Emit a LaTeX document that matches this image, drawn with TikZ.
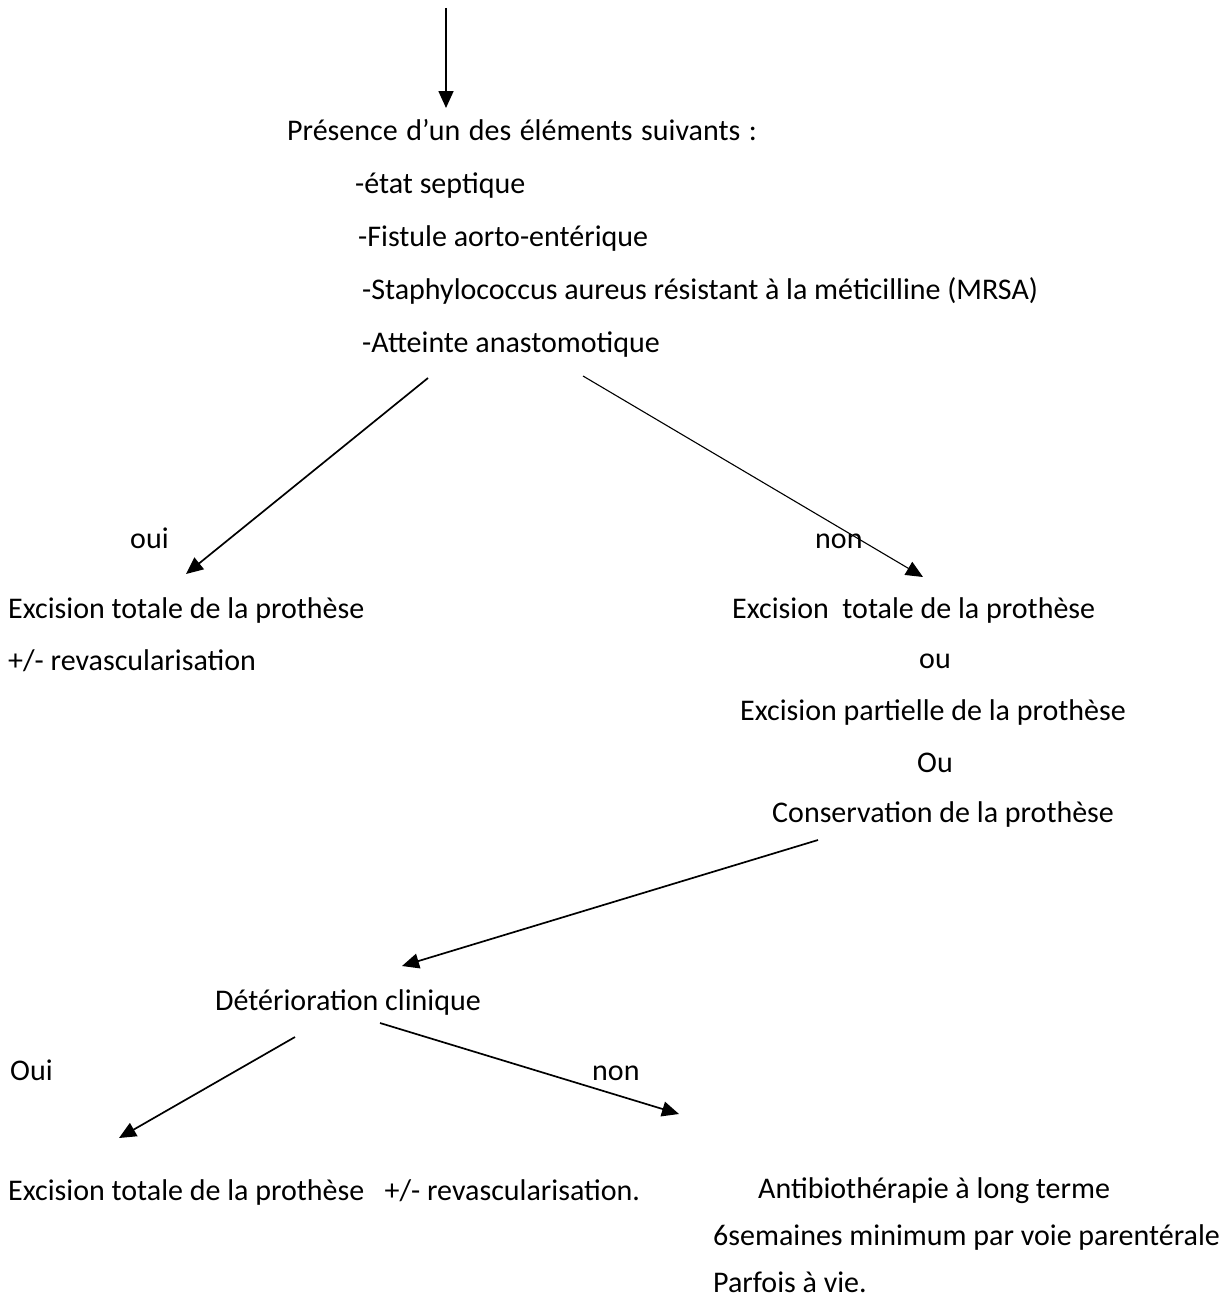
\documentclass[tikz,border=0pt]{standalone}
\usepackage{fontspec}
\setmainfont{Carlito}
\usetikzlibrary{arrows.meta}
\tikzset{
  txt/.style={inner sep=0pt, anchor=base west, font=\fontsize{30}{34}\selectfont},
  ctxt/.style={inner sep=0pt, anchor=base, font=\fontsize{30}{34}\selectfont},
  conn/.style={line width=1.7pt, -{Triangle[length=17pt,width=15pt]}},
  thinconn/.style={line width=1.1pt, -{Triangle[length=17pt,width=15pt]}}
}
\begin{document}
\begin{tikzpicture}[x=1pt,y=-1pt]
\useasboundingbox (0,0) rectangle (1231,1298);
% texts
\node[txt] (pres) at (287,140) {\spaceskip=8.5pt Présence d’un des éléments suivants :};
\node[txt] (l1) at (355,193) {-état septique};
\node[txt] (l2) at (358,246) {-Fistule aorto-entérique};
\node[txt] (l3) at (362,299) {-Staphylococcus aureus résistant à la méticilline (MRSA)};
\node[txt] (l4) at (362,352) {-Atteinte anastomotique};
\node[txt] (oui) at (130,548) {oui};
\node[txt] (non) at (815,548) {non};
\node[txt] (ex1) at (8,618) {Excision totale de la prothèse};
\node[txt] (rev1) at (8,670) {+/- revascularisation};
\node[txt] (ex2) at (732,618) {Excision\ \ totale de la prothèse};
\node[ctxt] (ou1) at (935,668) {ou};
\node[txt] (ex3) at (740,720) {Excision partielle de la prothèse};
\node[ctxt] (ou2) at (935,772) {Ou};
\node[txt] (cons) at (772,822) {Conservation de la prothèse};
\node[txt] (det) at (215,1010) {Détérioration clinique};
\node[txt] (Oui) at (10,1080) {Oui};
\node[txt] (non2) at (592,1080) {non};
\node[txt] (ex4) at (8,1200) {Excision totale de la prothèse\ \ \ +/- revascularisation.};
\node[txt] (ab1) at (758,1198) {Antibiothérapie à long terme};
\node[txt] (ab2) at (713,1245) {6semaines minimum par voie parentérale};
\node[txt] (ab3) at (713,1292) {Parfois à vie.};
% connector ends
\coordinate (top) at (446,8);
\coordinate (topend) at (446,108);
\coordinate (a1s) at (428,378);
\coordinate (a1e) at (186,574);
\coordinate (a2s) at (583,376);
\coordinate (a2e) at (923,577);
\coordinate (a3s) at (818,840);
\coordinate (a3e) at (402,966);
\coordinate (a4s) at (295,1037);
\coordinate (a4e) at (119,1138);
\coordinate (a5s) at (380,1023);
\coordinate (a5e) at (679,1114);
% connectors
\draw[conn] (top) -- (topend);
\draw[conn] (a1s) -- (a1e);
\draw[thinconn] (a2s) -- (a2e);
\draw[conn] (a3s) -- (a3e);
\draw[conn] (a4s) -- (a4e);
\draw[conn] (a5s) -- (a5e);
\end{tikzpicture}
\end{document}
